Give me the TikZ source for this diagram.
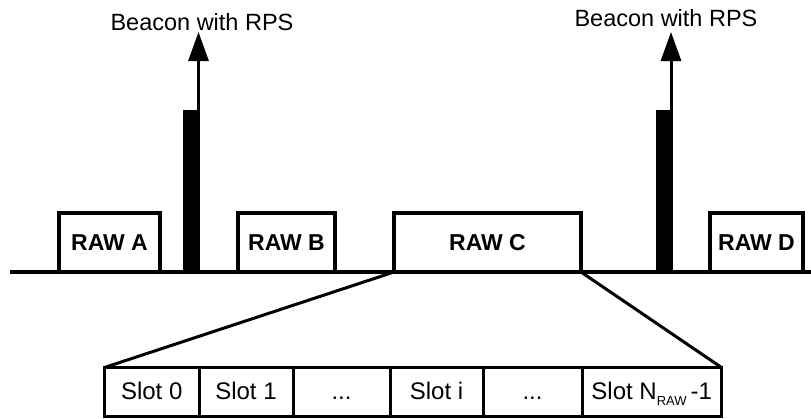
\documentclass[tikz,border=0pt]{standalone}
\usepackage{fontspec}
\setmainfont{Liberation Sans}
\usetikzlibrary{arrows.meta}
\begin{document}
\begin{tikzpicture}[x=1pt,y=-1pt,
  rawbox/.style={draw,line width=4pt,inner sep=0pt,outer sep=0pt,anchor=north west,
     font=\fontsize{23}{25}\selectfont\bfseries},
  slotbox/.style={draw,line width=3pt,inner sep=0pt,outer sep=0pt,anchor=north west,
     minimum height=48.5pt,text height=16pt,text depth=-5pt,font=\fontsize{24}{26}\selectfont},
  bar/.style={fill=black,inner sep=0pt,outer sep=0pt,minimum width=17pt,minimum height=162pt,anchor=south},
  beaconarrow/.style={line width=3pt,-{Triangle[length=29pt,width=20pt]}},
  lbl/.style={font=\fontsize{23.5}{25}\selectfont,inner sep=0pt},
  zoomline/.style={line width=3pt}
]
\useasboundingbox (0,0) rectangle (811,418);
% baseline
\coordinate (L) at (10,272);
\coordinate (R) at (811,272);
% RAW boxes
\node[rawbox,minimum width=101pt,minimum height=59pt] (A) at (59,213) {RAW A};
\node[rawbox,minimum width=97pt,minimum height=59pt] (B) at (238,213) {RAW B};
\node[rawbox,minimum width=187pt,minimum height=59pt] (C) at (394,213) {RAW C};
\node[rawbox,minimum width=93pt,minimum height=59pt] (D) at (710,213) {RAW D};
\draw[line width=4pt] (L) -- (R);
% beacons
\node[bar] (b1) at (191.5,272) {};
\node[bar] (b2) at (664,272) {};
\coordinate (t1) at (198.5,32);
\coordinate (t2) at (671,32);
\draw[beaconarrow] ([xshift=-1.5pt]b1.north east) -- (t1);
\draw[beaconarrow] ([xshift=-1.5pt]b2.north east) -- (t2);
\node[lbl] (l1) at (202,22) {Beacon with RPS};
\node[lbl] (l2) at (666,18.5) {Beacon with RPS};
% slots
\node[slotbox,minimum width=94.5pt] (s0) at (104.5,367.5) {Slot 0};
\node[slotbox,minimum width=94pt] (s1) at (s0.north east) {Slot 1};
\node[slotbox,minimum width=97pt] (s2) at (s1.north east) {...};
\node[slotbox,minimum width=93pt] (s3) at (s2.north east) {Slot i};
\node[slotbox,minimum width=99pt] (s4) at (s3.north east) {...};
\node[slotbox,minimum width=139.5pt] (s5) at (s4.north east) {Slot N\raisebox{-6pt}{\fontsize{13}{13}\selectfont RAW}\hspace{4pt}-1};
% zoom lines
\draw[zoomline] (C.south west) -- (s0.north west);
\draw[zoomline] (C.south east) -- (s5.north east);
\end{tikzpicture}
\end{document}
